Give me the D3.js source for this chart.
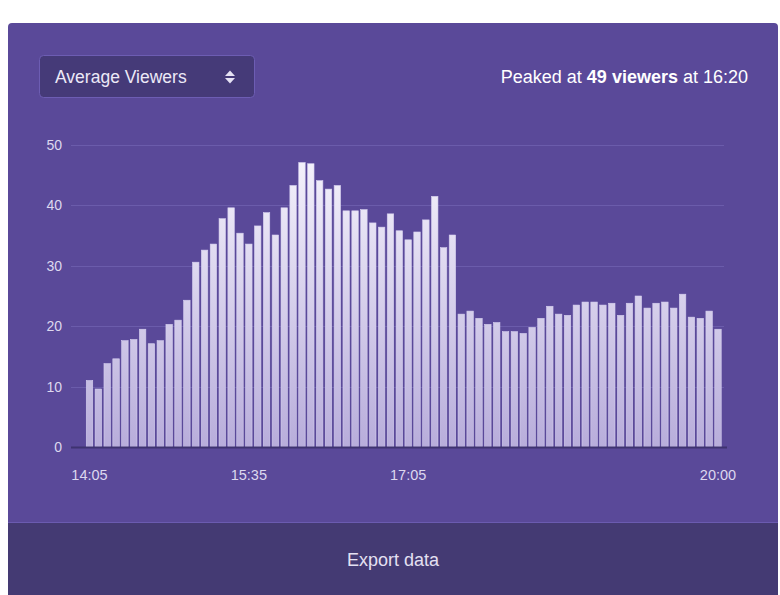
<!DOCTYPE html>
<html>
<head>
<meta charset="utf-8">
<script src="https://cdn.jsdelivr.net/npm/d3@7"></script>
<style>
  html, body { margin: 0; padding: 0; background: #ffffff; }
  svg { display: block; }
  text { font-family: "Liberation Sans", Arial, Helvetica, sans-serif; }
</style>
</head>
<body>
<svg id="chart" width="780" height="595"></svg>
<script>
// ---- data ----
const times = [
  "14:05","14:10","14:15","14:20","14:25","14:30","14:35","14:40","14:45","14:50","14:55","15:00",
  "15:05","15:10","15:15","15:20","15:25","15:30","15:35","15:40","15:45","15:50","15:55","16:00",
  "16:05","16:10","16:15","16:20","16:25","16:30","16:35","16:40","16:45","16:50","16:55","17:00",
  "17:05","17:10","17:15","17:20","17:25","17:30","17:35","17:40","17:45","17:50","17:55","18:00",
  "18:05","18:10","18:15","18:20","18:25","18:30","18:35","18:40","18:45","18:50","18:55","19:00",
  "19:05","19:10","19:15","19:20","19:25","19:30","19:35","19:40","19:45","19:50","19:55","20:00"
];
const viewers = [
  11.0, 9.6, 13.8, 14.6, 17.6, 17.8, 19.5, 17.1, 17.6, 20.3, 21.0, 24.3,
  30.6, 32.6, 33.6, 37.8, 39.6, 35.4, 33.6, 36.6, 38.8, 35.1, 39.6, 43.3,
  47.1, 46.9, 44.1, 42.7, 43.3, 39.1, 39.1, 39.3, 37.1, 36.4, 38.6, 35.8,
  34.3, 35.6, 37.6, 41.5, 33.0, 35.1, 22.0, 22.5, 21.3, 20.3, 20.6, 19.1,
  19.1, 18.8, 19.8, 21.3, 23.3, 22.0, 21.8, 23.5, 24.0, 24.0, 23.5, 23.8,
  21.8, 23.8, 25.0, 23.0, 23.8, 24.0, 23.0, 25.3, 21.5, 21.3, 22.5, 19.5
];
const xTickLabels = ["14:05", "15:35", "17:05", "20:00"];
const yTicks = [0, 10, 20, 30, 40, 50];
const selectLabel = "Average Viewers";
const peakParts = [
  { t: "Peaked at ", bold: false },
  { t: "49 viewers", bold: true },
  { t: " at 16:20", bold: false }
];
const footerLabel = "Export data";

// ---- drawing ----
const svg = d3.select("#chart");
const defs = svg.append("defs");

// card
svg.append("rect").attr("x", 8).attr("y", 23).attr("width", 770).attr("height", 580)
  .attr("rx", 4).attr("fill", "#5a4999");

// footer
svg.append("rect").attr("x", 8).attr("y", 522).attr("width", 770).attr("height", 73)
  .attr("fill", "#443a73");
svg.append("line").attr("x1", 8).attr("x2", 778).attr("y1", 522.5).attr("y2", 522.5)
  .attr("stroke", "#6b5bb0").attr("stroke-width", 1);
svg.append("text").attr("x", 393).attr("y", 565.5).attr("text-anchor", "middle")
  .attr("font-size", 18).attr("fill", "#e4e0f2").text(footerLabel);

// dropdown
svg.append("rect").attr("x", 39.5).attr("y", 55.5).attr("width", 215).attr("height", 42)
  .attr("rx", 4).attr("fill", "#453a78").attr("stroke", "#6d5db3").attr("stroke-width", 1);
svg.append("text").attr("x", 55).attr("y", 82.5).attr("font-size", 17.5)
  .attr("fill", "#ece9f7").text(selectLabel);
svg.append("path").attr("d", "M225,76 L230,70.5 L235,76 Z").attr("fill", "#e6e2f4");
svg.append("path").attr("d", "M225,78 L230,83.5 L235,78 Z").attr("fill", "#e6e2f4");

// peak text
const peak = svg.append("text").attr("x", 748).attr("y", 82.5).attr("text-anchor", "end")
  .attr("font-size", 18).attr("fill", "#ffffff");
peakParts.forEach(p => {
  peak.append("tspan").attr("font-weight", p.bold ? "bold" : "normal").text(p.t);
});

// scales
const y = d3.scaleLinear().domain([0, 50]).range([447, 145]);
const x = d3.scaleBand().domain(times).range([84.5, 723]).paddingInner(0.27).paddingOuter(0.2);

// gradient for bars (spanning the plot height)
const grad = defs.append("linearGradient").attr("id", "barGrad")
  .attr("gradientUnits", "userSpaceOnUse")
  .attr("x1", 0).attr("x2", 0).attr("y1", y(50)).attr("y2", y(0));
grad.append("stop").attr("offset", "0%").attr("stop-color", "#f7f5fd");
grad.append("stop").attr("offset", "100%").attr("stop-color", "#b8addb");

// gridlines
svg.append("g").selectAll("line").data(yTicks.filter(d => d > 0)).join("line")
  .attr("x1", 71).attr("x2", 724)
  .attr("y1", d => Math.round(y(d)) + 0.5).attr("y2", d => Math.round(y(d)) + 0.5)
  .attr("stroke", "#6b5cab").attr("stroke-width", 1);

// y labels
svg.append("g").selectAll("text").data(yTicks).join("text")
  .attr("x", 62).attr("y", d => y(d) + 5).attr("text-anchor", "end")
  .attr("font-size", 14).attr("fill", "#ddd8ef").text(d => d);

// bars
svg.append("g").selectAll("rect").data(viewers).join("rect")
  .attr("x", (d, i) => x(times[i]))
  .attr("width", x.bandwidth())
  .attr("y", d => y(d))
  .attr("height", d => y(0) - y(d))
  .attr("fill", "url(#barGrad)")
  .attr("stroke", "#d6cff0").attr("stroke-width", 0.6);

// baseline
svg.append("line").attr("x1", 71).attr("x2", 727).attr("y1", y(0) + 0.5).attr("y2", y(0) + 0.5)
  .attr("stroke", "#3e3370").attr("stroke-width", 2);

// x axis
const xAxis = d3.axisBottom(x).tickValues(xTickLabels).tickSize(0).tickPadding(0);
const gx = svg.append("g").attr("transform", "translate(0,470)").call(xAxis);
gx.select(".domain").remove();
gx.selectAll("text").attr("font-size", 14.5).attr("fill", "#ddd8ef")
  .attr("font-family", "\"Liberation Sans\", Arial, Helvetica, sans-serif");
</script>
</body>
</html>
